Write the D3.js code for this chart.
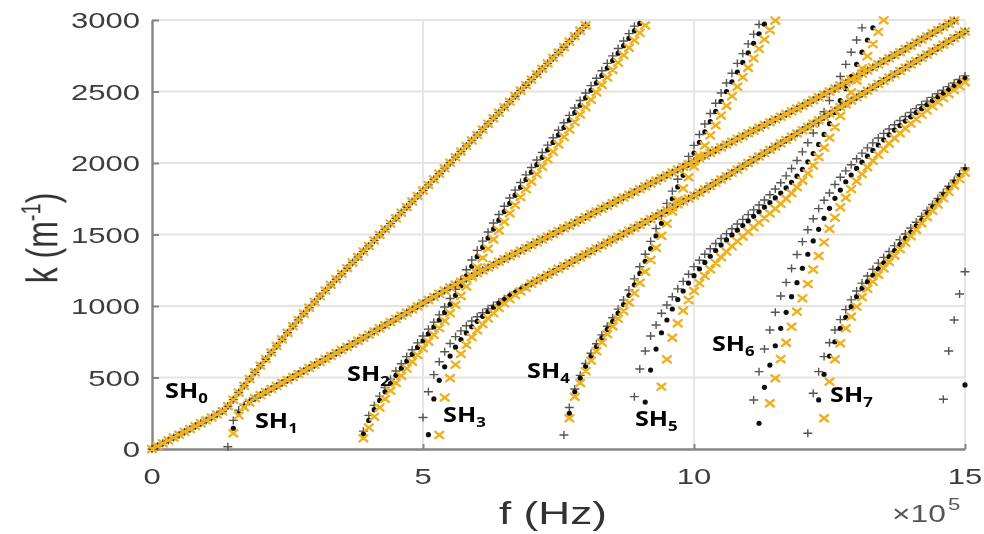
<!DOCTYPE html>
<html><head><meta charset="utf-8">
<script src="https://cdn.jsdelivr.net/npm/d3@7"></script>
<style>
html,body{margin:0;padding:0;background:#fff;}
svg{display:block;}
</style></head><body>
<svg id="chart" width="984" height="534"></svg>
<script>
// ---------- data ----------
const xTicks = [0, 5, 10, 15];                 // f in units of 1e5 Hz
const xTickLabels = ["0", "5", "10", "15"];
const yTicks = [0, 500, 1000, 1500, 2000, 2500, 3000];
const yTickLabels = ["0", "500", "1000", "1500", "2000", "2500", "3000"];
const modeNames = ["SH", "SH", "SH", "SH", "SH", "SH", "SH", "SH"];
const modeSubs = ["0", "1", "2", "3", "4", "5", "6", "7"];
const seriesNames = ["gray", "black", "yellow"];

// rows: [f, k] when the three series coincide, or [f, kGray, kBlack, kYellow]
const sh0 = [[0,0],[0.1,20],[0.2,40],[0.3,60],[0.4,80],[0.5,100],[0.6,120],[0.7,140],[0.8,160],[0.9,180],[1.0,200],[1.1,221],[1.2,242],[1.3,264],[1.4,300],[1.5,345],[1.6,395],[1.7,442],[1.8,490],[1.9,537],[2.0,583],[2.1,629],[2.2,675],[2.3,721],[2.4,767],[2.5,813],[2.6,859],[2.7,903],[2.8,946],[2.9,988],[3.0,1029],[3.1,1069],[3.2,1109],[3.3,1148],[3.4,1187],[3.5,1226],[3.6,1265],[3.7,1304],[3.8,1343],[3.9,1382],[4.0,1420],[4.1,1459],[4.2,1498],[4.3,1537],[4.4,1576],[4.5,1614],[4.6,1653],[4.7,1692],[4.8,1731],[4.9,1770],[5.0,1808],[5.1,1847],[5.2,1886],[5.3,1925],[5.4,1964],[5.5,2002],[5.6,2041],[5.7,2080],[5.8,2119],[5.9,2158],[6.0,2196],[6.1,2235],[6.2,2274],[6.3,2313],[6.4,2352],[6.5,2390],[6.6,2429],[6.7,2468],[6.8,2507],[6.9,2545],[7.0,2583],[7.1,2621],[7.2,2659],[7.3,2697],[7.4,2735],[7.5,2773],[7.6,2811],[7.7,2849],[7.8,2887],[7.9,2925],[8.0,2963]];

const sh1 = [[1.4,16,null,null],[1.5,200,145,110],[1.6,272,250,235],[1.7,306,300,292],[1.8,334,330,325],[1.9,355],[2.0,378],[2.1,399],[2.2,420],[2.3,441],[2.4,462],[2.5,483],[2.6,504],[2.7,525],[2.8,546],[2.9,567],[3.0,588],[3.1,609],[3.2,630],[3.3,651],[3.4,672],[3.5,693],[3.6,714],[3.7,735],[3.8,757],[3.9,778],[4.0,800],[4.1,822],[4.2,844],[4.3,866],[4.4,888],[4.5,910],[4.6,932],[4.7,954],[4.8,976],[4.9,998],[5.0,1020],[5.1,1042],[5.2,1064],[5.3,1086],[5.4,1108],[5.5,1130],[5.6,1150],[5.7,1170],[5.8,1190],[5.9,1210],[6.0,1230],[6.1,1250],[6.2,1270],[6.3,1289],[6.4,1309],[6.5,1328],[6.6,1348],[6.7,1367],[6.8,1387],[6.9,1406],[7.0,1426],[7.1,1446],[7.2,1465],[7.3,1485],[7.4,1504],[7.5,1524],[7.6,1544],[7.7,1563],[7.8,1583],[7.9,1602],[8.0,1622],[8.1,1642],[8.2,1661],[8.3,1681],[8.4,1700],[8.5,1720],[8.6,1740],[8.7,1759],[8.8,1779],[8.9,1798],[9.0,1818],[9.1,1837],[9.2,1857],[9.3,1876],[9.4,1896],[9.5,1915],[9.6,1934],[9.7,1954],[9.8,1973],[9.9,1993],[10.0,2012],[10.1,2032],[10.2,2051],[10.3,2071],[10.4,2090],[10.5,2110],[10.6,2130],[10.7,2149],[10.8,2169],[10.9,2188],[11.0,2208],[11.1,2227],[11.2,2247],[11.3,2266],[11.4,2286],[11.5,2305],[11.6,2324],[11.7,2343],[11.8,2362],[11.9,2381],[12.0,2400],[12.1,2420],[12.2,2440],[12.3,2460],[12.4,2480],[12.5,2500],[12.6,2521],[12.7,2542],[12.8,2563],[12.9,2584],[13.0,2605],[13.1,2626],[13.2,2647],[13.3,2669],[13.4,2690],[13.5,2712],[13.6,2733],[13.7,2755],[13.8,2776],[13.9,2798],[14.0,2820],[14.1,2842],[14.2,2864],[14.3,2886],[14.4,2908],[14.5,2930],[14.6,2952],[14.7,2974],[14.8,2996]];

const sh2 = [[3.9,125,105,75],[4.0,235,200,150],[4.1,305,275,225],[4.2,370,340,290],[4.3,430,400,350],[4.4,488,458,408],[4.5,545,515,462],[4.6,596,565,512],[4.7,646,615,562],[4.8,694,662,610],[4.9,742,710,657],[5.0,790,757,704],[5.1,838,805,751],[5.2,887,853,798],[5.3,938,902,846],[5.4,993,955,896],[5.5,1052,1012,950],[5.6,1117,1075,1008],[5.7,1185,1142,1070],[5.8,1254,1210,1136],[5.9,1322,1278,1203],[6.0,1389,1345,1270],[6.1,1454,1410,1336],[6.2,1518,1475,1401],[6.3,1580,1538,1465],[6.4,1640,1600,1528],[6.5,1698,1660,1589],[6.6,1755,1718,1648],[6.7,1810,1775,1706],[6.8,1864,1830,1762],[6.9,1917,1884,1817],[7.0,1969,1936,1870],[7.1,2021,1988,1922],[7.2,2073,2040,1974],[7.3,2125,2092,2026],[7.4,2177,2144,2078],[7.5,2229,2196,2130],[7.6,2281,2248,2182],[7.7,2333,2300,2234],[7.8,2385,2352,2286],[7.9,2437,2404,2338],[8.0,2489,2456,2390],[8.1,2541,2508,2442],[8.2,2593,2560,2494],[8.3,2645,2612,2546],[8.4,2697,2664,2598],[8.5,2749,2716,2650],[8.6,2801,2768,2702],[8.7,2853,2820,2754],[8.8,2905,2872,2806],[8.9,2957,2924,2858],[9.0,null,2976,2910],[9.1,null,null,2962]];

const sh3 = [[5.0,220,null,null],[5.1,400,100,null],[5.2,520,350,null],[5.3,610,480,98],[5.4,680,575,360],[5.5,738,650,495],[5.6,786,712,590],[5.7,826,765,665],[5.8,862,812,728],[5.9,895,855,782],[6.0,925,893,830],[6.1,953,928,873],[6.2,980,961,913],[6.3,1004,992,950],[6.4,1027,1020,985],[6.5,1050,1047,1018],[6.6,1072,1072,1048],[6.7,1094,1094,1076],[6.8,1115,1115,1102],[6.9,1136,1136,1127],[7.0,1157],[7.1,1178],[7.2,1198],[7.3,1219],[7.4,1239],[7.5,1260],[7.6,1280],[7.7,1301],[7.8,1321],[7.9,1342],[8.0,1362],[8.1,1383],[8.2,1403],[8.3,1424],[8.4,1444],[8.5,1465],[8.6,1485],[8.7,1506],[8.8,1526],[8.9,1547],[9.0,1567],[9.1,1588],[9.2,1608],[9.3,1629],[9.4,1649],[9.5,1670],[9.6,1690],[9.7,1711],[9.8,1731],[9.9,1752],[10.0,1772],[10.1,1793],[10.2,1816],[10.3,1839],[10.4,1862],[10.5,1885],[10.6,1908],[10.7,1931],[10.8,1954],[10.9,1977],[11.0,2000],[11.1,2023],[11.2,2046],[11.3,2069],[11.4,2092],[11.5,2115],[11.6,2138],[11.7,2161],[11.8,2184],[11.9,2207],[12.0,2230],[12.1,2253],[12.2,2276],[12.3,2299],[12.4,2322],[12.5,2345],[12.6,2368],[12.7,2391],[12.8,2414],[12.9,2437],[13.0,2460],[13.1,2483],[13.2,2506],[13.3,2529],[13.4,2552],[13.5,2575],[13.6,2598],[13.7,2621],[13.8,2644],[13.9,2667],[14.0,2690],[14.1,2713],[14.2,2736],[14.3,2759],[14.4,2782],[14.5,2805],[14.6,2828],[14.7,2851],[14.8,2874],[14.9,2897],[15.0,2920]];

const sh4 = [[7.6,98,null,null],[7.7,290,250,215],[7.8,420,400,365],[7.9,515,495,462],[8.0,598,578,545],[8.1,670,650,618],[8.2,736,715,684],[8.3,798,777,745],[8.4,858,836,803],[8.5,918,893,858],[8.6,978,950,910],[8.7,1042,1010,965],[8.8,1112,1075,1024],[8.9,1190,1148,1090],[9.0,1274,1228,1162],[9.1,1362,1313,1240],[9.2,1452,1401,1322],[9.3,1542,1490,1406],[9.4,1631,1578,1491],[9.5,1718,1665,1576],[9.6,1803,1750,1660],[9.7,1886,1833,1742],[9.8,1967,1914,1822],[9.9,2046,1993,1900],[10.0,2123,2070,1976],[10.1,2199,2145,2050],[10.2,2273,2218,2122],[10.3,2346,2290,2193],[10.4,2418,2361,2263],[10.5,2489,2431,2332],[10.6,2559,2500,2400],[10.7,2628,2568,2467],[10.8,2697,2636,2534],[10.9,2765,2703,2600],[11.0,2833,2770,2666],[11.1,2901,2837,2732],[11.2,2969,2904,2798],[11.3,null,2971,2864],[11.4,null,null,2930],[11.5,null,null,2996]];

const sh5 = [[8.9,366,null,null],[9.0,559,null,null],[9.1,685,328,null],[9.2,790,552,null],[9.3,867,699,null],[9.4,949,813,436],[9.5,1007,902,627],[9.6,1065,979,778],[9.7,1120,1045,879],[9.8,1172,1105,967],[9.9,1222,1160,1042],[10.0,1275,1212,1105],[10.1,1320,1260,1160],[10.2,1362,1305,1210],[10.3,1400,1348,1256],[10.4,1437,1388,1300],[10.5,1472,1426,1341],[10.6,1506,1462,1380],[10.7,1540,1497,1417],[10.8,1573,1530,1452],[10.9,1606,1563,1486],[11.0,1639,1595,1519],[11.1,1672,1627,1551],[11.2,1706,1659,1583],[11.3,1741,1691,1615],[11.4,1778,1723,1647],[11.5,1818,1756,1680],[11.6,1862,1790,1714],[11.7,1910,1826,1750],[11.8,1962,1865,1789],[11.9,2018,1908,1831],[12.0,2078,1955,1877],[12.1,2142,2008,1927],[12.2,2210,2066,1982],[12.3,2282,2130,2042],[12.4,2358,2200,2107],[12.5,2437,2275,2177],[12.6,2520,2354,2251],[12.7,2605,2436,2329],[12.8,2690,2520,2410],[12.9,2775,2605,2493],[13.0,2860,2690,2577],[13.1,2945,2775,2662],[13.2,null,2860,2747],[13.3,null,2945,2832],[13.4,null,null,2917],[13.5,null,null,2998]];

const sh6 = [[11.1,343,null,null],[11.2,541,180,null],[11.3,699,431,null],[11.4,832,587,320],[11.5,956,722,494],[11.6,1070,844,629],[11.7,1165,956,743],[11.8,1262,1065,855],[11.9,1360,1163,960],[12.0,1450,1264,1054],[12.1,1533,1362,1154],[12.2,1610,1455,1255],[12.3,1681,1536,1350],[12.4,1740,1613,1445],[12.5,1790,1683,1540],[12.6,1850,1753,1618],[12.7,1900,1811,1690],[12.8,1945,1869,1757],[12.9,1988,1916,1817],[13.0,2030,1962,1872],[13.1,2069,2006,1922],[13.2,2106,2048,1970],[13.3,2141,2088,2015],[13.4,2175,2126,2057],[13.5,2207,2162,2097],[13.6,2238,2197,2136],[13.7,2268,2230,2173],[13.8,2297,2262,2208],[13.9,2325,2293,2242],[14.0,2353,2323,2275],[14.1,2380,2352,2307],[14.2,2407,2380,2338],[14.3,2433,2408,2368],[14.4,2459,2435,2397],[14.5,2484,2462,2426],[14.6,2509,2488,2454],[14.7,2534,2514,2482],[14.8,2559,2540,2510],[14.9,2584,2566,2537],[15.0,2609,2592,2564]];

const sh7 = [[12.1,110,null,null],[12.2,390,null,null],[12.3,541,343,null],[12.4,646,522,215],[12.5,743,650,471],[12.6,832,750,627],[12.7,905,844,739],[12.8,975,921,844],[12.9,1043,995,925],[13.0,1105,1065,995],[13.1,1160,1124,1062],[13.2,1210,1170,1120],[13.3,1257,1215,1170],[13.4,1300,1259,1218],[13.5,1340,1302,1264],[13.6,1381,1345,1308],[13.7,1422,1388,1353],[13.8,1463,1431,1398],[13.9,1504,1474,1443],[14.0,1545,1517,1488],[14.1,1586,1560,1533],[14.2,1627,1603,1578],[14.3,1668,1646,1622],[14.4,1710,1690,1666],[14.5,1752,1734,1710],[14.6,1794,1778,1754],[14.7,1837,1822,1798],[14.8,1880,1866,1843],[14.9,1923,1910,1888],[15.0,1966,1954,1933]];

const sh8 = [[14.6,348,null,null],[14.7,685,null,null],[14.8,902,null,null],[14.9,1084,null,null],[15.0,1240,448,null]];

const modeRows = [sh0, sh1, sh2, sh3, sh4, sh5, sh6, sh7, sh8];

// ---------- layout (not data) ----------
const labelAnchors = [[0.24,357],[1.90,147],[3.60,476],[5.37,189],[6.92,497],[8.91,161],[10.33,685],[12.51,329]];

const root = d3.select("#chart");
const defs = root.append("defs");
defs.append("filter").attr("id", "soft").attr("x", "-5%").attr("y", "-5%").attr("width", "110%").attr("height", "110%")
  .append("feGaussianBlur").attr("stdDeviation", 0.45);
const svg = root.append("g").attr("filter", "url(#soft)");

const x = d3.scaleLinear().domain([0, 15]).range([152, 965]);
const y = d3.scaleLinear().domain([0, 3000]).range([449, 20]);
const SX = 1.38;  // horizontal stretch of the original figure's text
const FONT = "'Liberation Sans', Arial, Helvetica, sans-serif";

// grid
const grid = svg.append("g");
grid.selectAll("line.gh").data(yTicks.filter(d => d > 0)).join("line").attr("class","gh")
  .attr("x1", x(0)).attr("x2", x(15)).attr("y1", d => y(d)).attr("y2", d => y(d))
  .attr("stroke", "#e4e4e4").attr("stroke-width", 1.8);
grid.selectAll("line.gv").data(xTicks.filter(d => d > 0)).join("line").attr("class","gv")
  .attr("x1", d => x(d)).attr("x2", d => x(d)).attr("y1", y(0)).attr("y2", y(3000))
  .attr("stroke", "#e4e4e4").attr("stroke-width", 1.8);

// axes
const axisColor = "#858585";
const gy = svg.append("g").attr("transform", `translate(${x(0)},0)`)
  .call(d3.axisLeft(y).tickValues(yTicks).tickSizeInner(-7).tickSizeOuter(0).tickFormat(""));
const gx = svg.append("g").attr("transform", `translate(0,${y(0)})`)
  .call(d3.axisBottom(x).tickValues(xTicks).tickSizeInner(-5).tickSizeOuter(0).tickFormat(""));
[gx, gy].forEach(g => {
  g.select(".domain").attr("stroke", axisColor).attr("stroke-width", 2.4);
  g.selectAll(".tick line").attr("stroke", axisColor).attr("stroke-width", 2);
});

// tick labels
svg.append("g").selectAll("text").data(yTicks).join("text")
  .attr("transform", d => `translate(140,${y(d) + 8}) scale(${SX},1)`)
  .attr("text-anchor", "end").attr("font-family", FONT).attr("font-size", 22.5)
  .attr("fill", "#3c3c3c").text((d, i) => yTickLabels[i]);
svg.append("g").selectAll("text").data(xTicks).join("text")
  .attr("transform", d => `translate(${x(d)},484) scale(${SX},1)`)
  .attr("text-anchor", "middle").attr("font-family", FONT).attr("font-size", 22.5)
  .attr("fill", "#3c3c3c").text((d, i) => xTickLabels[i]);

// axis titles
svg.append("text").attr("transform", `translate(553,524) scale(${SX},1)`)
  .attr("text-anchor", "middle").attr("font-family", FONT).attr("font-size", 32)
  .attr("fill", "#333").text("f (Hz)");
const yl = svg.append("text").attr("transform", `translate(57,238) rotate(-90) scale(1,${SX})`)
  .attr("text-anchor", "middle").attr("font-family", FONT).attr("font-size", 32).attr("fill", "#333");
yl.append("tspan").text("k (m");
yl.append("tspan").attr("font-size", 20).attr("dy", -12).text("-1");
yl.append("tspan").attr("dy", 12).text(")");
svg.append("text").attr("transform", `translate(892,522) scale(${SX},1)`)
  .attr("font-family", FONT).attr("font-size", 23).attr("fill", "#555").text("\u00d710");
svg.append("text").attr("transform", `translate(948,510) scale(${SX},1)`)
  .attr("font-family", FONT).attr("font-size", 16).attr("fill", "#555").text("5");

// expand rows into the three series
const pts = { gray: [], black: [], yellow: [] };
modeRows.forEach(rows => rows.forEach(r => {
  const vals = r.length === 2 ? [r[1], r[1], r[1]] : [r[1], r[2], r[3]];
  seriesNames.forEach((s, i) => {
    if (vals[i] != null && vals[i] <= 3000) pts[s].push({ f: r[0], k: vals[i] });
  });
}));

const plot = svg.append("g");
plot.append("g").selectAll("path").data(pts.gray).join("path")
  .attr("transform", d => `translate(${x(d.f)},${y(d.k)})`)
  .attr("d", "M-4.5,0H4.5M0,-4V4").attr("stroke", "#555").attr("stroke-width", 1.4).attr("fill", "none");
plot.append("g").selectAll("circle").data(pts.black).join("circle")
  .attr("cx", d => x(d.f)).attr("cy", d => y(d.k)).attr("r", 2.6).attr("fill", "#111");
plot.append("g").selectAll("path").data(pts.yellow).join("path")
  .attr("transform", d => `translate(${x(d.f)},${y(d.k)})`)
  .attr("d", "M-4,-3.2L4,3.2M-4,3.2L4,-3.2").attr("stroke", "#EDB120").attr("stroke-width", 2.4)
  .attr("stroke-linecap", "round").attr("fill", "none");

// mode labels
const lab = svg.append("g").selectAll("text").data(modeNames).join("text")
  .attr("transform", (d, i) => `translate(${x(labelAnchors[i][0])},${y(labelAnchors[i][1])}) scale(1.2,1)`)
  .attr("font-family", "'Open Sans', Lato, 'Liberation Sans', sans-serif").attr("font-weight", 700)
  .attr("font-size", 21).attr("fill", "#000");
lab.append("tspan").text(d => d);
lab.append("tspan").attr("font-size", 14).attr("dy", 5).text((d, i) => modeSubs[i]);
</script>
</body></html>
